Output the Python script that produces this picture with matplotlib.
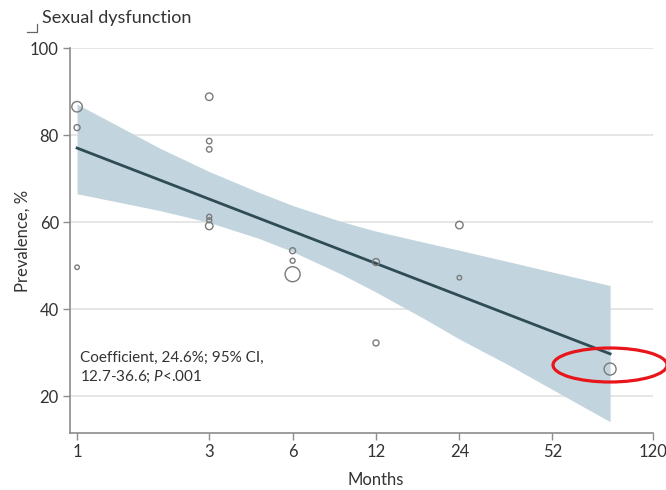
import numpy as np
import matplotlib
matplotlib.use("Agg")
import matplotlib.pyplot as plt
from matplotlib.patches import Ellipse
from matplotlib.lines import Line2D
from matplotlib.ticker import FixedLocator, NullLocator, FixedFormatter

plt.rcParams['font.family'] = ['Lato', 'DejaVu Sans']
plt.rcParams['mathtext.fontset'] = 'custom'
plt.rcParams['mathtext.it'] = 'Lato:italic'
plt.rcParams['mathtext.rm'] = 'Lato'

# studies: follow-up (months), prevalence (%), marker diameter (px ~ study weight)
study_months = [1, 1, 1, 3, 3, 3, 3, 3, 3, 6, 6, 6, 12, 12, 24, 24, 84]
prevalence = [86.5, 81.7, 49.6, 88.8, 78.6, 76.7, 61.2, 60.4, 59.1,
              53.4, 51.1, 48.0, 50.8, 32.2, 59.3, 47.2, 26.2]
marker_px = [10.5, 6, 4.5, 7.5, 5.5, 5.5, 5, 5, 7.5, 6, 5, 15, 7, 6, 7.5, 4.5, 12]

# meta-regression line and 95% CI band
fit_months = [1, 84]
fit_prev = [77.0, 29.7]
ci_months = [1, 2, 3, 4.5, 6, 9, 12, 18, 24, 36, 52, 84]
ci_upper = [87.1, 76.9, 71.6, 66.9, 63.8, 60.1, 57.9, 55.3, 53.5, 50.9, 48.5, 45.4]
ci_lower = [66.5, 62.6, 59.9, 56.3, 53.2, 48.0, 43.9, 37.7, 33.1, 27.2, 21.5, 14.1]

xticks = [1, 3, 6, 12, 24, 52, 120]
yticks = [20, 40, 60, 80, 100]

fig = plt.figure(figsize=(6.66, 4.90), dpi=100)
ax = fig.add_axes([70/666, 57/490, 583/666, 385/490])

ax.fill_between(ci_months, ci_lower, ci_upper, color='#c2d4dd', lw=0, zorder=2)
ax.plot(fit_months, fit_prev, color='#2f4b55', lw=2, zorder=3)
sizes = [(d * 0.72) ** 2 for d in marker_px]
ax.scatter(study_months, prevalence, s=sizes, facecolors='none',
           edgecolors='#7a7a7a', linewidths=1.0, zorder=4)

ax.set_xscale('log')
ax.set_xlim(0.943, 120)
ax.set_ylim(11.5, 100)
ax.xaxis.set_major_locator(FixedLocator(xticks))
ax.xaxis.set_major_formatter(FixedFormatter([str(t) for t in xticks]))
ax.xaxis.set_minor_locator(NullLocator())
ax.set_yticks(yticks)
ax.grid(axis='y', color='#e2e2e2', lw=1.2, zorder=0)
ax.set_axisbelow(True)

for s in ['top', 'right']:
    ax.spines[s].set_visible(False)
for s in ['left', 'bottom']:
    ax.spines[s].set_color('#8c8c8c')
    ax.spines[s].set_linewidth(1.2)
ax.tick_params(length=5, width=1, color='#8c8c8c', labelsize=12,
               labelcolor='#333333', pad=3)

ax.set_xlabel('Months', fontsize=12, color='#333333')
ax.xaxis.set_label_coords(0.525, -0.1)
ax.set_ylabel('Prevalence, %', fontsize=12, color='#333333')
ax.yaxis.set_label_coords(-0.068, 0.5)

ax.text(0.017, 0.169, 'Coefficient, 24.6%; 95% CI,\n12.7-36.6; $\\mathit{P}$<.001',
        transform=ax.transAxes, fontsize=11, color='#333333', va='center',
        linespacing=1.3)

fig.text(42/666, 1 - 18/490, 'Sexual dysfunction', fontsize=13,
         color='#333333', va='center')
fig.add_artist(Line2D([27/666, 37/666, 37/666], [1 - 32/490, 1 - 32/490, 1 - 24/490],
                      transform=fig.transFigure, color='#666666', lw=0.9))

ell = Ellipse((610/666, 1 - 365/490), 114/666, 34/490, transform=fig.transFigure,
              fill=False, edgecolor='#e8161b', lw=2.3, zorder=10)
fig.add_artist(ell)

fig.savefig('out.png', dpi=100)
